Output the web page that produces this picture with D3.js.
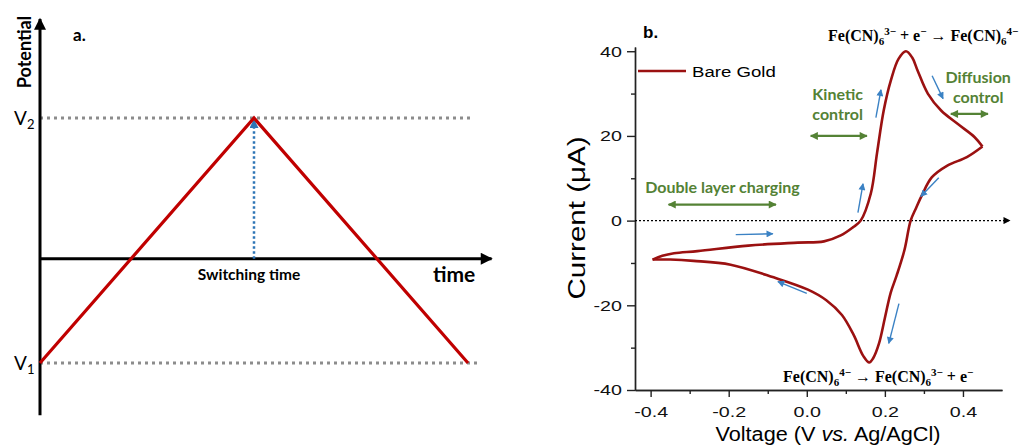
<!DOCTYPE html>
<html>
<head>
<meta charset="utf-8">
<script src="https://cdn.jsdelivr.net/npm/d3@7"></script>
<style>
  body { margin: 0; background: #fff; }
</style>
</head>
<body>
<div id="chart"></div>
<script>
// ---- panel a: triangular potential sweep ----
const sweepTime = [0, 1, 2];              // start, switching time, end
const sweepLevel = ["V1", "V2", "V1"];
const levelValue = { V1: -1, V2: 1.35 };  // relative to the time axis

// ---- panel b: cyclic voltammogram, bare gold ----
const fwdV = [-0.395, -0.37, -0.34, -0.28, -0.15, -0.023, 0.044, 0.087, 0.118, 0.138, 0.164, 0.18, 0.197, 0.215, 0.235, 0.254, 0.27, 0.284, 0.31, 0.344, 0.387, 0.43, 0.45];
const fwdI = [-9.2, -8.3, -7.7, -7.2, -5.9, -5.2, -4.9, -3.5, -1.6, 0, 6.4, 16, 26, 33, 38.2, 40, 38.5, 35.4, 30, 26, 22.8, 19.7, 17.5];
const revV = [0.45, 0.41, 0.36, 0.32, 0.295, 0.28, 0.266, 0.25, 0.23, 0.215, 0.2, 0.185, 0.17, 0.16, 0.145, 0.12, 0.09, 0.05, 0.003, -0.085, -0.195, -0.29, -0.35, -0.395];
const revI = [17.5, 15, 13, 10.2, 6, 3, 0, -7, -13, -17, -23, -29, -32.5, -33.5, -32, -27, -22.3, -18.8, -16.3, -13.4, -10.4, -9.5, -9.2, -9.2];

const xTicks = [-0.4, -0.2, 0, 0.2, 0.4];
const xMinor = [-0.3, -0.1, 0.1, 0.3];
const yTicks = [-40, -20, 0, 20, 40];
const yMinor = [-30, -10, 10, 30];

// scan direction arrows [V from, I from, V to, I to]
const scanArrows = [
  [-0.182, -3.3, -0.087, -3.1],
  [0.0, -17.2, -0.074, -14.4],
  [0.131, 1.9, 0.144, 8.7],
  [0.177, 24.3, 0.19, 30.9],
  [0.321, 34.2, 0.349, 28.8],
  [0.338, 10.1, 0.292, 5.7],
  [0.236, -19.6, 0.21, -29]
];
// regime labels: text lines, centre V, text I, arrow V range, arrow I
const regimes = [
  { lines: ["Double layer charging"], v: -0.216, i: 6.5, v0: -0.354, v1: -0.079, ai: 3.8 },
  { lines: ["Kinetic", "control"], v: 0.079, i: 28.5, v0: 0.01, v1: 0.154, ai: 20 },
  { lines: ["Diffusion", "control"], v: 0.439, i: 32.5, v0: 0.369, v1: 0.464, ai: 25.2 }
];

const width = 1029, height = 448;
const svg = d3.select("#chart").append("svg")
  .attr("width", width).attr("height", height)
  .style("font-family", "Lato, 'Open Sans', sans-serif");

const defs = svg.append("defs");
function marker(id, color, w, h) {
  defs.append("marker")
    .attr("id", id)
    .attr("viewBox", "0 0 10 10")
    .attr("refX", 9).attr("refY", 5)
    .attr("markerUnits", "userSpaceOnUse")
    .attr("markerWidth", w).attr("markerHeight", h)
    .attr("orient", "auto-start-reverse")
    .append("path").attr("d", "M0,0 L10,5 L0,10 z").attr("fill", color);
}
marker("ah-black", "#000", 13, 12);
marker("ah-dot", "#000", 8, 7);
marker("ah-blue", "#3b82c4", 8, 7);
marker("ah-blue-big", "#2e75b6", 10, 9);
marker("ah-green", "#548235", 9, 8);

// widen a text to a factor of its natural length (the source fonts are wider)
function stretch(sel, f) {
  sel.each(function () {
    const len = this.getComputedTextLength();
    d3.select(this).attr("textLength", len * f).attr("lengthAdjust", "spacingAndGlyphs");
  });
}

// ================= panel a =================
const tx = d3.scaleLinear().domain([0, 2]).range([40, 468]);
const py = d3.scaleLinear().domain([-1, 1.35]).range([363, 118]);
const gA = svg.append("g");

// dotted level guides
gA.append("line")
  .attr("x1", tx(0)).attr("x2", tx(2.02))
  .attr("y1", py(levelValue.V2)).attr("y2", py(levelValue.V2))
  .attr("stroke", "#8c8c8c").attr("stroke-width", 3).attr("stroke-dasharray", "3,4");
gA.append("line")
  .attr("x1", tx(0)).attr("x2", tx(2.05))
  .attr("y1", py(levelValue.V1)).attr("y2", py(levelValue.V1))
  .attr("stroke", "#8c8c8c").attr("stroke-width", 3).attr("stroke-dasharray", "3,4");

// axes
gA.append("line")
  .attr("x1", tx(0)).attr("x2", tx(0))
  .attr("y1", py(-1.5)).attr("y2", py(2.3))
  .attr("stroke", "#000").attr("stroke-width", 3)
  .attr("marker-end", "url(#ah-black)");
gA.append("line")
  .attr("x1", tx(0)).attr("x2", tx(2.11))
  .attr("y1", py(0)).attr("y2", py(0))
  .attr("stroke", "#000").attr("stroke-width", 3)
  .attr("marker-end", "url(#ah-black)");

// switching time marker
gA.append("line")
  .attr("x1", tx(1)).attr("x2", tx(1))
  .attr("y1", py(0)).attr("y2", py(levelValue.V2) + 2)
  .attr("stroke", "#2e75b6").attr("stroke-width", 2.5).attr("stroke-dasharray", "2.5,2.5")
  .attr("marker-end", "url(#ah-blue-big)");

// waveform
const wave = d3.line()
  .x((d, i) => tx(sweepTime[i]))
  .y(d => py(levelValue[d]));
gA.append("path")
  .attr("d", wave(sweepLevel))
  .attr("fill", "none").attr("stroke", "#c00000").attr("stroke-width", 3.2);

// labels
gA.append("text")
  .attr("transform", `translate(31,52) rotate(-90)`)
  .attr("text-anchor", "middle")
  .attr("font-size", 18).attr("font-weight", 700)
  .text("Potential");
gA.append("text").attr("x", 73).attr("y", 41)
  .attr("font-size", 17).attr("font-weight", 700).text("a.");
["V2", "V1"].forEach(k => {
  const t = gA.append("text")
    .attr("x", 14).attr("y", py(levelValue[k]) + 7)
    .attr("font-size", 19);
  t.append("tspan").text("V");
  t.append("tspan").attr("dy", 4).attr("font-size", 13).text(k.slice(1));
});
gA.append("text")
  .attr("x", tx(1) - 5).attr("y", py(0) + 21)
  .attr("text-anchor", "middle")
  .attr("font-size", 15.5).attr("font-weight", 700)
  .text("Switching time");
gA.append("text")
  .attr("x", 433).attr("y", py(0) + 23)
  .attr("font-size", 21).attr("font-weight", 700)
  .text("time");

// ================= panel b =================
const x = d3.scaleLinear().domain([-0.44, 0.5]).range([635, 1002]);
const y = d3.scaleLinear().domain([-40, 41]).range([390, 47]);
const gB = svg.append("g").style("font-family", "'Liberation Sans', Arial, sans-serif");

function styleAxis(g) {
  g.selectAll("path, line").attr("stroke", "#222").attr("stroke-width", 1.4);
  g.selectAll("text").attr("fill", "#111").attr("font-size", 15.5).call(stretch, 1.27);
}
gB.append("g").attr("transform", `translate(0,${y(-40)})`)
  .call(d3.axisBottom(x).tickValues(xMinor).tickFormat("").tickSize(4).tickSizeOuter(0))
  .call(styleAxis);
gB.append("g").attr("transform", `translate(0,${y(-40)})`)
  .call(d3.axisBottom(x).tickValues(xTicks).tickFormat(d => d.toFixed(1)).tickSize(7).tickSizeOuter(0).tickPadding(9))
  .call(styleAxis);
gB.append("g").attr("transform", `translate(${x(-0.44)},0)`)
  .call(d3.axisLeft(y).tickValues(yMinor).tickFormat("").tickSize(4).tickSizeOuter(0))
  .call(styleAxis);
gB.append("g").attr("transform", `translate(${x(-0.44)},0)`)
  .call(d3.axisLeft(y).tickValues(yTicks).tickFormat(d => String(d)).tickSize(8).tickSizeOuter(0).tickPadding(5))
  .call(styleAxis);

// zero line
gB.append("line")
  .attr("x1", x(-0.44)).attr("x2", x(0.52))
  .attr("y1", y(0)).attr("y2", y(0))
  .attr("stroke", "#000").attr("stroke-width", 1.3).attr("stroke-dasharray", "2,2")
  .attr("marker-end", "url(#ah-dot)");

// curve
const cv = d3.line().x(d => x(d[0])).y(d => y(d[1])).curve(d3.curveCatmullRom.alpha(0.5));
[[fwdV, fwdI], [revV, revI]].forEach(([vs, is]) => {
  gB.append("path")
    .attr("d", cv(vs.map((v, i) => [v, is[i]])))
    .attr("fill", "none").attr("stroke", "#9b1111").attr("stroke-width", 2.6)
    .attr("stroke-linejoin", "round");
});

// scan direction arrows
gB.selectAll(".scan").data(scanArrows).enter().append("line")
  .attr("class", "scan")
  .attr("x1", d => x(d[0])).attr("y1", d => y(d[1]))
  .attr("x2", d => x(d[2])).attr("y2", d => y(d[3]))
  .attr("stroke", "#3b82c4").attr("stroke-width", 1.4)
  .attr("marker-end", "url(#ah-blue)");

// regime annotations
regimes.forEach(r => {
  gB.append("line")
    .attr("x1", x(r.v0)).attr("x2", x(r.v1))
    .attr("y1", y(r.ai)).attr("y2", y(r.ai))
    .attr("stroke", "#548235").attr("stroke-width", 2.2)
    .attr("marker-start", "url(#ah-green)").attr("marker-end", "url(#ah-green)");
  r.lines.forEach((ln, k) => {
    gB.append("text")
      .attr("x", x(r.v)).attr("y", y(r.i) + k * 20)
      .attr("text-anchor", "middle")
      .style("font-family", "Lato, 'Open Sans', sans-serif")
      .attr("font-size", 16).attr("font-weight", 700).attr("fill", "#548235")
      .text(ln);
  });
});

// legend
gB.append("line").attr("x1", 638).attr("x2", 686).attr("y1", 71).attr("y2", 71)
  .attr("stroke", "#9b1111").attr("stroke-width", 2.6);
gB.append("text").attr("x", 692).attr("y", 77).attr("font-size", 15.5).text("Bare Gold")
  .call(stretch, 1.2);

gB.append("text").attr("x", 643).attr("y", 38)
  .attr("font-size", 17).attr("font-weight", 700).text("b.");

// axis titles
gB.append("text")
  .attr("transform", `translate(585,218) rotate(-90)`)
  .attr("text-anchor", "middle").attr("font-size", 23)
  .text("Current (\u03bcA)")
  .attr("textLength", 163).attr("lengthAdjust", "spacingAndGlyphs");
const xt = gB.append("text").attr("x", 828).attr("y", 441)
  .attr("text-anchor", "middle").attr("font-size", 20)
  .attr("textLength", 225).attr("lengthAdjust", "spacingAndGlyphs");
xt.append("tspan").text("Voltage (V ");
xt.append("tspan").attr("font-style", "italic").text("vs.");
xt.append("tspan").text(" Ag/AgCl)");

// reaction equations
function equation(px, pyy, parts) {
  const t = gB.append("text").attr("x", px).attr("y", pyy)
    .style("font-family", "'Liberation Serif', 'Times New Roman', serif")
    .attr("font-weight", 700).attr("font-size", 16);
  let level = 0;
  parts.forEach(([s, lv]) => {
    const target = lv === "sub" ? 4 : lv === "sup" ? -6 : 0;
    t.append("tspan").attr("dy", target - level)
      .attr("font-size", lv ? 11 : 16).text(s);
    level = target;
  });
}
equation(828, 41, [["Fe(CN)"], ["6", "sub"], ["3\u2212", "sup"], [" + e"], ["\u2212", "sup"], [" \u2192 Fe(CN)"], ["6", "sub"], ["4\u2212", "sup"]]);
equation(783, 382, [["Fe(CN)"], ["6", "sub"], ["4\u2212", "sup"], [" \u2192 Fe(CN)"], ["6", "sub"], ["3\u2212", "sup"], [" + e"], ["\u2212", "sup"]]);
</script>
</body>
</html>
